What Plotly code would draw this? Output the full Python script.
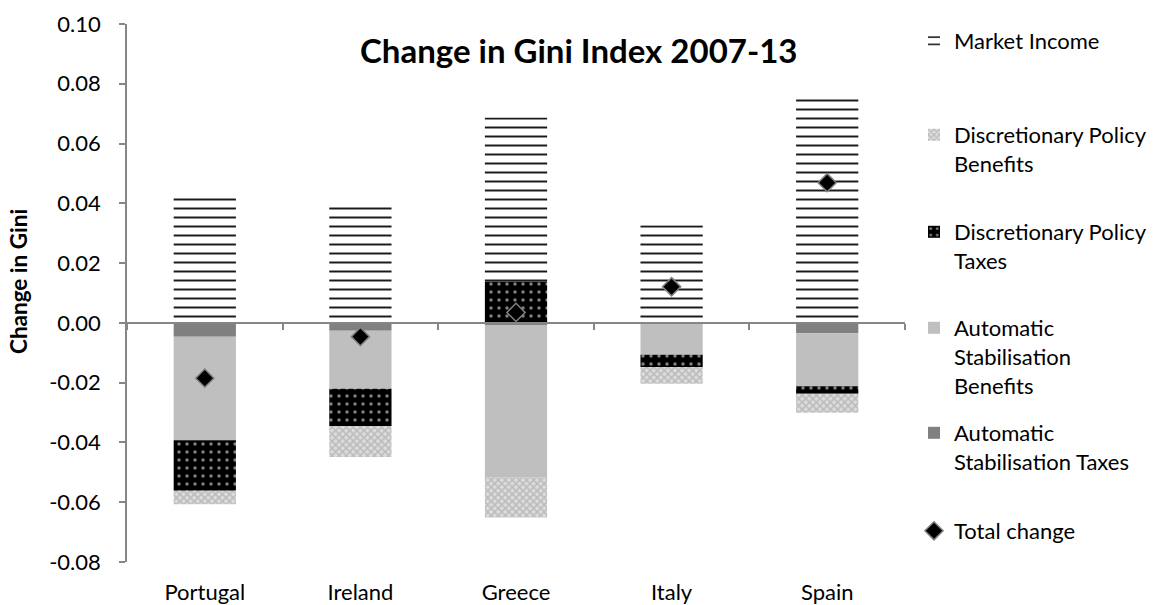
import plotly.graph_objects as go

countries = ["Portugal", "Ireland", "Greece", "Italy", "Spain"]
market_income = [0.0423, 0.0406, 0.0548, 0.0327, 0.0765]
dp_benefits = [-0.0045, -0.0103, -0.0133, -0.0056, -0.0064]
dp_taxes = [-0.0169, -0.0126, 0.0139, -0.0041, -0.0025]
as_benefits = [-0.0347, -0.0194, -0.0509, -0.0107, -0.0177]
as_taxes = [-0.0046, -0.0026, -0.0009, 0.0, -0.0035]
total_change = [-0.0185, -0.0046, 0.0035, 0.0121, 0.0469]

y_ticks = [0.10, 0.08, 0.06, 0.04, 0.02, 0.00, -0.02, -0.04, -0.06, -0.08]
y_ticktext = ["0.10", "0.08", "0.06", "0.04", "0.02", "0.00", "-0.02", "-0.04", "-0.06", "-0.08"]

W, H = 1160, 605
L, R, T, B = 127, 255, 24, 43
PW, PH = W - L - R, H - T - B
FONT = "Lato"

def px_x(px):
    return (px - L) / PW

def px_y(py):
    return (H - B - py) / PH

xs = list(range(len(countries)))
bar_width = 0.4

fig = go.Figure()

def add_bar(name, vals, color, pattern, legend, rank):
    fig.add_trace(go.Bar(
        x=xs, y=vals, name=name, width=bar_width,
        marker=dict(color=color, line=dict(width=0), pattern=pattern),
        legend=legend, legendrank=rank,
    ))

add_bar("Automatic<br>Stabilisation Taxes", as_taxes, "#808080", None, "legend5", 5)
add_bar("Automatic<br>Stabilisation<br>Benefits", as_benefits, "#bfbfbf", None, "legend4", 4)
add_bar("Discretionary Policy<br>Taxes", dp_taxes, "black",
        dict(shape=".", bgcolor="black", fgcolor="white", size=8, solidity=0.15), "legend3", 3)
add_bar("Discretionary Policy<br>Benefits", dp_benefits, "#e0e0e0",
        dict(shape="x", bgcolor="#dcdcdc", fgcolor="#999999", size=5, solidity=0.5), "legend2", 2)
add_bar("Market Income", market_income, "white",
        dict(shape="-", bgcolor="white", fgcolor="#1a1a1a", fgopacity=1, size=9, solidity=0.22),
        "legend", 1)

fig.add_trace(go.Scatter(
    x=xs, y=total_change, name="Total change", mode="markers",
    marker=dict(symbol="diamond", size=14, color="black", line=dict(color="#808080", width=1.5)),
    legend="legend6", legendrank=6, xaxis="x2",
))

LEG_FS = 22
legend_common = dict(font=dict(family=FONT, size=LEG_FS, color="black"), bgcolor="rgba(0,0,0,0)",
                     x=px_x(914), xanchor="left", yanchor="top", valign="top",
                     itemclick=False, itemdoubleclick=False)
legend_lines = {"legend": 40, "legend2": 134, "legend3": 231, "legend4": 327, "legend5": 432, "legend6": 530}
for key, cy in legend_lines.items():
    fig.update_layout(**{key: dict(legend_common, y=px_y(cy - 20))})

TICK_FS = 22
fig.update_layout(
    width=W, height=H,
    margin=dict(l=L, r=R, t=T, b=B, autoexpand=False),
    paper_bgcolor="white", plot_bgcolor="white",
    barmode="relative",
    showlegend=True,
    font=dict(family=FONT, size=TICK_FS, color="black"),
    xaxis=dict(range=[-0.5, 4.5], tickvals=xs, ticktext=countries, showline=False,
               showgrid=False, zeroline=False, ticks="outside", ticklen=11,
               tickcolor="rgba(0,0,0,0)", tickfont=dict(family=FONT, size=TICK_FS)),
    xaxis2=dict(range=[-0.5, 4.5], overlaying="x", anchor="free",
                position=0.08 / 0.18, showline=True, linecolor="#868686", linewidth=1.5,
                ticks="outside", ticklen=6, tickcolor="#868686", tickwidth=1.5,
                tickvals=[-0.5, 0.5, 1.5, 2.5, 3.5, 4.5], showticklabels=False,
                showgrid=False, zeroline=False),
    yaxis=dict(range=[-0.08, 0.10], tickvals=y_ticks, ticktext=y_ticktext,
               showline=True, linecolor="#868686", linewidth=1.5, ticks="outside",
               ticklen=6, tickcolor="#868686", tickwidth=1.5, showgrid=False,
               zeroline=False, ticklabelstandoff=14, tickfont=dict(family=FONT, size=TICK_FS)),
    annotations=[
        dict(text="<b>Change in Gini Index 2007-13</b>", xref="paper", yref="paper",
             x=px_x(579), y=px_y(50), xanchor="center", yanchor="middle",
             showarrow=False, font=dict(family=FONT, size=33, color="black")),
        dict(text="<b>Change in Gini</b>", xref="paper", yref="paper",
             x=px_x(18), y=px_y(282), xanchor="center", yanchor="middle",
             textangle=-90, showarrow=False, font=dict(family=FONT, size=22.5, color="black")),
    ],
)

fig.write_html("out.html")
